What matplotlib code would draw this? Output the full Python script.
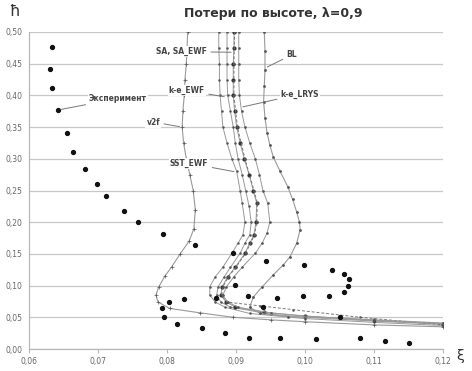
import matplotlib
matplotlib.use("Agg")
import matplotlib.pyplot as plt
from matplotlib.ticker import FixedLocator, FuncFormatter

# ---- data ----
exp_x = [0.0633, 0.0630, 0.0634, 0.0642, 0.0655, 0.0664, 0.0681, 0.0699, 0.0711, 0.0737,
         0.0758, 0.0794, 0.0840, 0.0895, 0.0943, 0.0999, 0.1039, 0.1056, 0.1064, 0.1063,
         0.1056, 0.1035, 0.0997, 0.0959, 0.0918, 0.0871, 0.0824, 0.0803, 0.0793, 0.0795,
         0.0815, 0.0850, 0.0884, 0.0919, 0.0964, 0.1016, 0.1079, 0.1116, 0.1151, 0.0898,
         0.0939, 0.1051]
exp_y = [0.477, 0.442, 0.411, 0.377, 0.341, 0.310, 0.284, 0.261, 0.242, 0.218,
         0.201, 0.181, 0.164, 0.151, 0.139, 0.132, 0.125, 0.119, 0.111, 0.099,
         0.090, 0.083, 0.083, 0.081, 0.083, 0.081, 0.079, 0.074, 0.064, 0.050,
         0.039, 0.033, 0.026, 0.018, 0.018, 0.016, 0.017, 0.013, 0.010, 0.101,
         0.066, 0.050]

v2f_x = [0.0830, 0.0829, 0.0828, 0.0826, 0.0825, 0.0823, 0.0822, 0.0824, 0.0828, 0.0833,
         0.0838, 0.0841, 0.0839, 0.0832, 0.0819, 0.0807, 0.0797, 0.0788, 0.0784, 0.0787,
         0.0804, 0.0848, 0.0896, 0.0950, 0.1000, 0.1100, 0.1200]
v2f_y = [0.50, 0.475, 0.45, 0.425, 0.40, 0.375, 0.35, 0.325, 0.30, 0.275,
         0.25, 0.22, 0.19, 0.17, 0.15, 0.13, 0.115, 0.098, 0.085, 0.074,
         0.064, 0.057, 0.050, 0.046, 0.043, 0.038, 0.035]

sst_x = [0.0875, 0.0875, 0.0876, 0.0876, 0.0877, 0.0879, 0.0881, 0.0887, 0.0894, 0.0901,
         0.0906, 0.0909, 0.0913, 0.0910, 0.0903, 0.0894, 0.0881, 0.0870, 0.0862, 0.0862,
         0.0870, 0.0884, 0.0920, 0.1000, 0.1100, 0.1200]
sst_y = [0.50, 0.475, 0.45, 0.425, 0.40, 0.375, 0.35, 0.325, 0.30, 0.28,
         0.25, 0.23, 0.20, 0.18, 0.167, 0.151, 0.129, 0.114, 0.098, 0.085,
         0.074, 0.066, 0.056, 0.048, 0.042, 0.037]

keewf_x = [0.0887, 0.0887, 0.0887, 0.0887, 0.0888, 0.0892, 0.0896, 0.0899, 0.0903, 0.0909,
           0.0914, 0.0919, 0.0922, 0.0920, 0.0913, 0.0906, 0.0892, 0.0883, 0.0874, 0.0872,
           0.0878, 0.0892, 0.0950, 0.1000, 0.1100, 0.1200]
keewf_y = [0.50, 0.475, 0.45, 0.425, 0.40, 0.375, 0.35, 0.325, 0.30, 0.275,
           0.25, 0.225, 0.20, 0.18, 0.167, 0.151, 0.129, 0.114, 0.098, 0.085,
           0.074, 0.066, 0.055, 0.050, 0.044, 0.039]

sa_x = [0.0897, 0.0897, 0.0896, 0.0896, 0.0896, 0.0898, 0.0901, 0.0906, 0.0912, 0.0919,
        0.0925, 0.0930, 0.0929, 0.0926, 0.0920, 0.0913, 0.0899, 0.0888, 0.0880, 0.0878,
        0.0886, 0.0899, 0.0940, 0.1000, 0.1100, 0.1200]
sa_y = [0.50, 0.475, 0.45, 0.425, 0.40, 0.375, 0.35, 0.325, 0.30, 0.275,
        0.25, 0.23, 0.20, 0.18, 0.167, 0.151, 0.129, 0.114, 0.098, 0.085,
        0.074, 0.066, 0.058, 0.052, 0.045, 0.040]

saewf_x = [0.0898, 0.0897, 0.0897, 0.0902, 0.0913, 0.0926, 0.0931, 0.0930, 0.0927, 0.0921,
           0.0914, 0.0900, 0.0889, 0.0881, 0.0879, 0.0887, 0.0935, 0.0983, 0.1080, 0.1200]
saewf_y = [0.50, 0.45, 0.40, 0.35, 0.30, 0.25, 0.23, 0.20, 0.18, 0.167,
           0.151, 0.129, 0.114, 0.098, 0.085, 0.074, 0.068, 0.062, 0.050, 0.038]

lrys_x = [0.0904, 0.0904, 0.0904, 0.0904, 0.0905, 0.0908, 0.0913, 0.0920, 0.0928, 0.0934,
          0.0939, 0.0946, 0.0949, 0.0945, 0.0938, 0.0928, 0.0909, 0.0897, 0.0886, 0.0881,
          0.0888, 0.0903, 0.0950, 0.1000, 0.1100, 0.1200]
lrys_y = [0.50, 0.475, 0.45, 0.425, 0.40, 0.375, 0.35, 0.325, 0.30, 0.275,
          0.25, 0.23, 0.20, 0.183, 0.167, 0.151, 0.129, 0.114, 0.098, 0.085,
          0.074, 0.066, 0.057, 0.052, 0.045, 0.040]

bl_x = [0.0941, 0.0942, 0.0942, 0.0941, 0.0940, 0.0942, 0.0945, 0.0949, 0.0954, 0.0964,
        0.0975, 0.0982, 0.0988, 0.0992, 0.0993, 0.0988, 0.0978, 0.0968, 0.0954, 0.0938,
        0.0925, 0.0920, 0.0935, 0.0975, 0.1050, 0.1100, 0.1200]
bl_y = [0.50, 0.47, 0.44, 0.415, 0.39, 0.365, 0.341, 0.322, 0.303, 0.28,
        0.256, 0.236, 0.216, 0.20, 0.188, 0.167, 0.145, 0.132, 0.117, 0.098,
        0.082, 0.066, 0.056, 0.051, 0.049, 0.046, 0.041]

x_ticks = [0.06, 0.07, 0.08, 0.09, 0.10, 0.11, 0.12]
y_ticks = [0.00, 0.05, 0.10, 0.15, 0.20, 0.25, 0.30, 0.35, 0.40, 0.45, 0.50]

title = "Потери по высоте, λ=0,9"

# ---- figure ----
fig = plt.figure(figsize=(4.72, 3.71), dpi=100)
ax = fig.add_axes([29/472, 22/371, 414/472, 317/371])
ax.set_xlim(0.06, 0.12)
ax.set_ylim(0.0, 0.5)

ax.yaxis.grid(True, color="#c8c8c8", lw=0.9)
ax.set_axisbelow(True)
for s in ["top", "right"]:
    ax.spines[s].set_visible(False)
for s in ["left", "bottom"]:
    ax.spines[s].set_color("#b8b8b8")
    ax.spines[s].set_linewidth(0.9)

ax.xaxis.set_major_locator(FixedLocator(x_ticks))
ax.yaxis.set_major_locator(FixedLocator(y_ticks))
fmt = FuncFormatter(lambda v, p: f"{v:.2f}".replace(".", ","))
ax.xaxis.set_major_formatter(fmt)
ax.yaxis.set_major_formatter(fmt)
ax.tick_params(axis="x", length=3, color="#b8b8b8", labelsize=5.5, labelcolor="#666666", pad=3)
ax.tick_params(axis="y", length=0, labelsize=5.5, labelcolor="#666666", pad=5)

line_c = "#999999"
mk_c = "#555555"
ax.plot(v2f_x, v2f_y, color=line_c, lw=0.8, marker="+", ms=2.2, mec=mk_c, mew=0.5)
ax.plot(sst_x, sst_y, color=line_c, lw=0.7, marker=".", ms=1.6, mec=mk_c, mfc=mk_c)
ax.plot(keewf_x, keewf_y, color=line_c, lw=0.7, marker=".", ms=1.6, mec=mk_c, mfc=mk_c)
ax.plot(sa_x, sa_y, color=line_c, lw=0.7, marker="o", ms=2.0, mec="#333333", mfc="#333333")
ax.plot(saewf_x, saewf_y, color="#777777", lw=0.7, ls=(0, (3, 2)), marker=".", ms=1.6,
        mec=mk_c, mfc=mk_c)
ax.plot(lrys_x, lrys_y, color=line_c, lw=0.7, marker=".", ms=1.8, mec=mk_c, mfc=mk_c)
ax.plot(bl_x, bl_y, color=line_c, lw=0.8, marker=".", ms=2.0, mec=mk_c, mfc=mk_c)
ax.plot(exp_x, exp_y, ls="none", marker="o", ms=2.8, color="#111111")

# ---- annotations ----
lab_kw = dict(fontsize=5.5, color="#444444", fontweight="bold",
              bbox=dict(boxstyle="square,pad=0.15", fc="white", ec="none"))
arrow = dict(arrowstyle="-", color="#777777", lw=0.7)
ax.annotate("SA, SA_EWF", xy=(0.0897, 0.468), xytext=(0.0858, 0.469),
            ha="right", va="center", arrowprops=arrow, **lab_kw)
ax.annotate("k-e_EWF", xy=(0.0887, 0.397), xytext=(0.0855, 0.408),
            ha="right", va="center", arrowprops=arrow, **lab_kw)
ax.annotate("Эксперимент", xy=(0.0642, 0.377), xytext=(0.0687, 0.395),
            ha="left", va="center", arrowprops=arrow, **lab_kw)
ax.annotate("v2f", xy=(0.0822, 0.350), xytext=(0.0790, 0.358),
            ha="right", va="center", arrowprops=arrow, **lab_kw)
ax.annotate("SST_EWF", xy=(0.0901, 0.279), xytext=(0.0860, 0.293),
            ha="right", va="center", arrowprops=arrow, **lab_kw)
ax.annotate("BL", xy=(0.0942, 0.443), xytext=(0.0973, 0.464),
            ha="left", va="center", arrowprops=arrow, **lab_kw)
ax.annotate("k-e_LRYS", xy=(0.0906, 0.381), xytext=(0.0965, 0.402),
            ha="left", va="center", arrowprops=arrow, **lab_kw)

fig.text(273/472, 1 - 14/371, title, ha="center", va="center",
         fontsize=9, fontweight="bold", color="#333333")
fig.text(14/472, 1 - 12/371, "ħ", ha="center", va="center", fontsize=11, color="#333333")
fig.text(460/472, 1 - 356/371, "ξ", ha="center", va="center", fontsize=10, color="#333333")

fig.savefig("out.png", dpi=100)
